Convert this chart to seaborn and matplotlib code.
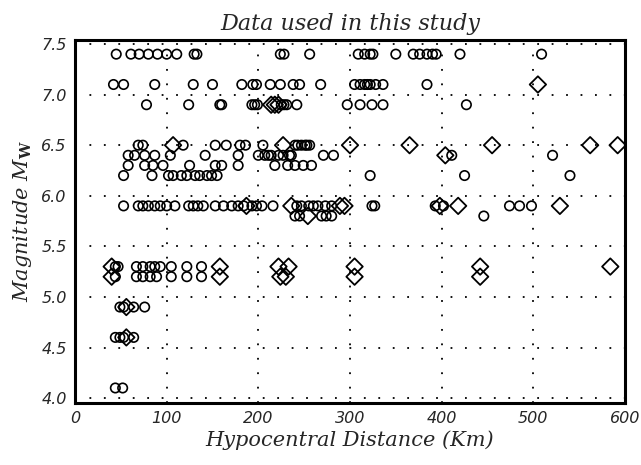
import numpy as np
import pandas as pd
import seaborn as sns
import matplotlib.pyplot as plt

# circles: distance (km) per magnitude level
circ = {
    7.4: [45, 61, 70, 80, 90, 100, 111, 130, 133, 224, 228, 256, 309, 316, 322, 325,
          350, 369, 376, 384, 390, 394, 420, 509],
    7.1: [42, 53, 87, 129, 150, 182, 194, 198, 213, 224, 238, 245, 268, 305, 311, 316,
          319, 322, 328, 336, 384],
    6.9: [78, 124, 158, 160, 193, 196, 199, 225, 228, 231, 242, 297, 311, 324, 336, 427],
    6.5: [69, 74, 118, 153, 165, 180, 186, 205, 240, 243, 247, 251, 253, 256],
    6.4: [58, 65, 76, 87, 104, 142, 178, 200, 207, 211, 214, 222, 227, 234, 236, 271,
          282, 411, 521],
    6.3: [58, 76, 85, 96, 125, 153, 160, 178, 218, 232, 240, 249, 258],
    6.2: [53, 84, 102, 107, 116, 122, 131, 136, 144, 149, 155, 322, 425, 540],
    5.9: [53, 69, 74, 80, 87, 93, 100, 109, 124, 129, 134, 140, 153, 162, 171, 178, 184,
          193, 198, 204, 216, 242, 247, 255, 260, 265, 273, 280, 324, 327, 393, 402,
          474, 485, 498],
    5.8: [240, 245, 269, 274, 280, 446],
    5.3: [44, 47, 67, 74, 82, 87, 93, 105, 122, 138],
    5.2: [44, 67, 74, 82, 89, 105, 122, 138],
    4.9: [49, 53, 64, 76],
    4.6: [44, 49, 53, 64],
    4.1: [44, 52],
}
# diamonds: distance (km) per magnitude level
diam = {
    7.1: [505],
    6.9: [214, 218, 222],
    6.5: [107, 227, 300, 365, 455, 562, 592],
    6.4: [404],
    5.9: [187, 236, 289, 294, 398, 418, 529],
    5.8: [254],
    5.3: [40, 158, 222, 233, 305, 442, 584],
    5.2: [40, 158, 224, 230, 305, 442],
    4.9: [56],
    4.6: [56],
}

df_c = pd.DataFrame([(d, m) for m, ds in circ.items() for d in ds], columns=["dist", "mag"])
df_d = pd.DataFrame([(d, m) for m, ds in diam.items() for d in ds], columns=["dist", "mag"])

sns.set_style("white")
plt.rcParams['font.family'] = ['DejaVu Serif']
plt.rcParams['mathtext.fontset'] = 'dejavuserif'

fig = plt.figure(figsize=(6.41, 4.65), dpi=100)
ax = fig.add_axes([0.117, 0.133, 0.858, 0.781])

sns.scatterplot(data=df_c, x="dist", y="mag", marker="o", s=46, facecolor="none",
                edgecolor="black", linewidth=1.2, ax=ax, zorder=3)
sns.scatterplot(data=df_d, x="dist", y="mag", marker="D", s=70, facecolor="none",
                edgecolor="black", linewidth=1.3, ax=ax, zorder=3)

ax.set_xlim(0, 600)
ax.set_ylim(3.95, 7.54)
ax.set_xticks(np.arange(0, 601, 100))
ax.set_yticks(np.arange(4.0, 7.51, 0.5))
ax.set_yticklabels([f"{v:.1f}" for v in np.arange(4.0, 7.51, 0.5)])
ax.grid(True, color="black", linestyle=(0, (1, 7)), linewidth=1.3)
ax.tick_params(length=0, pad=6)
for lbl in ax.get_xticklabels() + ax.get_yticklabels():
    lbl.set_family("DejaVu Sans")
    lbl.set_style("italic")
    lbl.set_fontsize(11.5)
for s in ax.spines.values():
    s.set_linewidth(2.2)
    s.set_color("black")

ax.set_title("Data used in this study", style="italic", fontsize=16, pad=7)
ax.set_xlabel("Hypocentral Distance (Km)", style="italic", fontsize=15, labelpad=3)
ax.set_ylabel(r"Magnitude $M_{\mathbf{W}}$", style="italic", fontsize=15, labelpad=5)

fig.savefig("out.png", dpi=100)
